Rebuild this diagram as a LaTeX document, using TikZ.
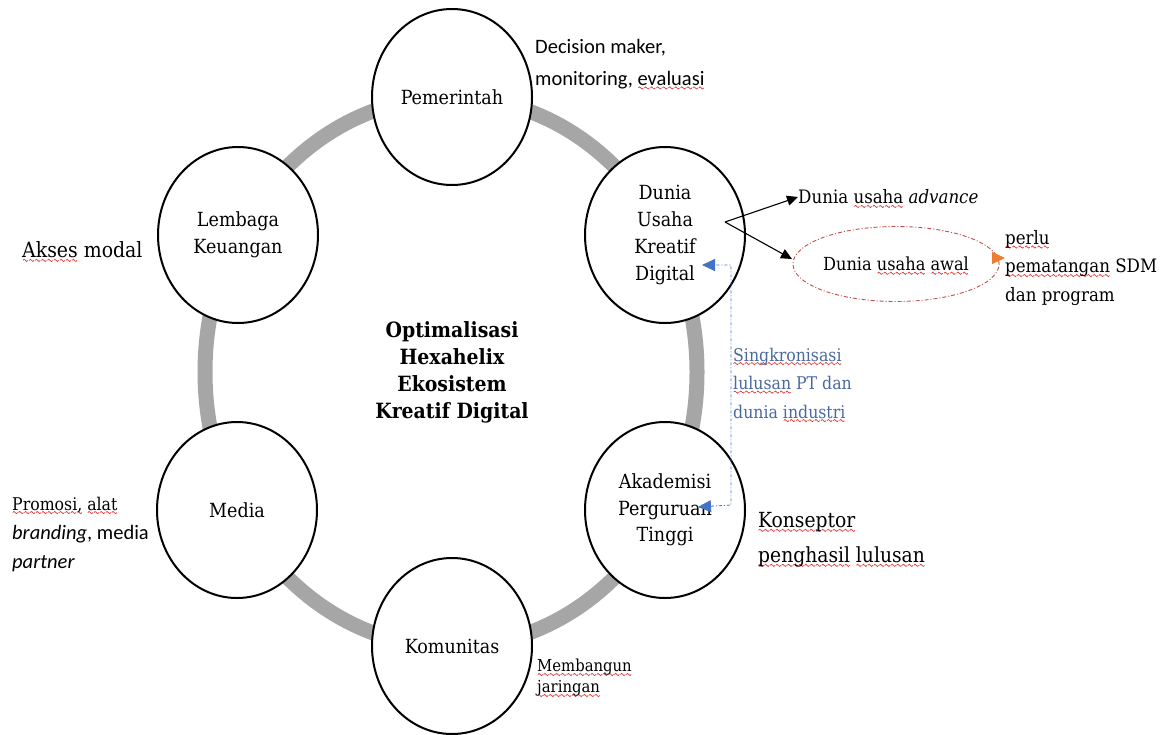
\documentclass[tikz,border=0pt]{standalone}
\usepackage{fontspec}
\usetikzlibrary{shapes.geometric,arrows.meta}
\IfFontExistsTF{DejaVu Serif Condensed}
  {\setmainfont{DejaVu Serif Condensed}}
  {\setmainfont{Liberation Serif}}
\newfontfamily\calibrifont{Carlito}
\definecolor{ringgray}{HTML}{A6A6A6}
\definecolor{syncblue}{HTML}{4472C4}
\definecolor{synctext}{HTML}{4A6A9F}
\definecolor{spellred}{HTML}{E03A3A}
\definecolor{dashred}{HTML}{C0504D}
\definecolor{arroworange}{HTML}{ED7D31}
\newsavebox\wavebox
\newsavebox\spellword
\newcommand\spellmark[1]{\leavevmode\sbox\spellword{#1}%
  \rlap{\raisebox{-4pt}[0pt][0pt]{\hbox to\wd\spellword{\xleaders\copy\wavebox\hfil}}}\usebox\spellword}

\begin{document}
\sbox\wavebox{\pgfpicture
  \pgfsetlinewidth{0.7pt}\pgfsetstrokecolor{spellred}%
  \pgfpathmoveto{\pgfpoint{0pt}{0pt}}%
  \pgfpathsine{\pgfpoint{1.25pt}{1.1pt}}\pgfpathcosine{\pgfpoint{1.25pt}{-1.1pt}}%
  \pgfpathsine{\pgfpoint{1.25pt}{-1.1pt}}\pgfpathcosine{\pgfpoint{1.25pt}{1.1pt}}%
  \pgfusepath{stroke}\endpgfpicture}
\begin{tikzpicture}[x=1pt, y=-1pt,
    ring/.style={draw=ringgray, line width=15pt},
    hexnode/.style={ellipse, draw, line width=2pt, fill=white,
      minimum width=160pt, minimum height=176pt, inner sep=0pt,
      align=center, font=\fontsize{19.5}{26.7}\selectfont},
    note/.style={anchor=west, inner sep=0pt, align=left,
      font=\fontsize{17.5}{29}\selectfont},
    sansnote/.style={note, font=\calibrifont\fontsize{20.5}{32}\selectfont},
    blackarrow/.style={line width=1.1pt, -{Triangle[length=11pt,width=10pt]}},
    syncline/.style={syncblue, line width=0.8pt, dash pattern=on 3pt off 2pt on 1pt off 2pt}]
    \fill[white] (0,0) rectangle (1169,734);
    \useasboundingbox (0,0) rectangle (1169,734);

    % the hexahelix ring
    \draw[ring] (451,372) ellipse [x radius=246pt, y radius=275pt];

    \node[hexnode] (pem)   at (452,97)  {Pemerintah};
    \node[hexnode] (dunia) at (665,235) {Dunia\\Usaha\\Kreatif\\Digital};
    \node[hexnode] (akad)  at (665,510) {Akademisi\\Perguruan\\Tinggi};
    \node[hexnode] (komun) at (452,646) {Komunitas};
    \node[hexnode] (media) at (237,510) {Media};
    \node[hexnode] (lemb)  at (238,235) {Lembaga\\Keuangan};

    \node[align=center, font=\bfseries\fontsize{21}{27}\selectfont] (core) at (452,372)
      {Optimalisasi\\Hexahelix\\Ekosistem\\Kreatif Digital};

    % roles
    \node[sansnote] (decisionTxt) at (535,64) {Decision maker,\\monitoring, \spellmark{evaluasi}};
    \node[note, font=\fontsize{21}{29}\selectfont] (aksesTxt) at (22,250) {\spellmark{Akses} modal};
    \node[note] (promoTxt) at (12,534)
      {\spellmark{Promosi,} \spellmark{alat}\\
       {\calibrifont\fontsize{20.5}{29}\selectfont\itshape branding\upshape, media}\\
       {\calibrifont\fontsize{20.5}{29}\selectfont\itshape partner}};
    \node[note, font=\fontsize{16.5}{21}\selectfont] (jaringanTxt) at (537,678)
      {\spellmark{Membangun}\\\spellmark{jaringan}};
    \node[note, font=\fontsize{20.8}{35}\selectfont] (konsepTxt) at (758,540)
      {\spellmark{Konseptor}\\\spellmark{penghasil} \spellmark{lulusan}};

    % business branches
    \coordinate (split) at (725,222);
    \node[note, font=\fontsize{18.5}{29}\selectfont] (advanceTxt) at (798,197)
      {Dunia \spellmark{usaha} \textit{advance}};
    \node[ellipse, draw=dashred, line width=0.9pt, dash pattern=on 4pt off 2pt on 1pt off 2pt,
      minimum width=187pt, minimum height=75pt, inner sep=0pt,
      font=\fontsize{18}{29}\selectfont] (awal) at (896,264) {Dunia \spellmark{usaha} \spellmark{awal}};
    \node[note, font=\fontsize{18.5}{28.5}\selectfont] (perluTxt) at (1005,268)
      {\spellmark{perlu}\\\spellmark{pematangan} SDM\\dan program};
    \draw[blackarrow] (split) -- (advanceTxt.west);
    \draw[blackarrow] (split) -- (792,259);
    \draw[arroworange, line width=1pt, -{Triangle[length=13pt,width=12pt]}]
      (awal.east |- 0,258) -- (perluTxt.west |- 0,258);

    % link campus - industry
    \node[note, text=synctext, font=\fontsize{17.5}{28.5}\selectfont] (syncTxt) at (733,383)
      {\spellmark{Singkronisasi}\\\spellmark{lulusan} PT dan\\dunia \spellmark{industri}};
    \coordinate (syncTop) at (731,265);
    \coordinate (syncBot) at (731,505);
    \coordinate (syncA) at (702,265);
    \coordinate (syncB) at (698,507);
    \draw[syncline, {Triangle[length=13pt,width=12pt]}-{Triangle[length=13pt,width=12pt]}]
      (syncB) -- (syncBot) -- (syncTop) -- (syncA);
\end{tikzpicture}
\end{document}
